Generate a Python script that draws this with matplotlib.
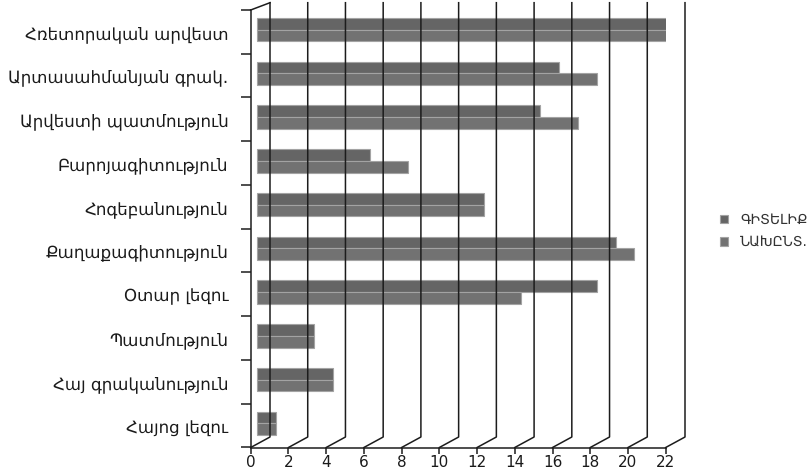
import numpy as np
import matplotlib
matplotlib.use("Agg")
import matplotlib.pyplot as plt
from matplotlib.transforms import offset_copy, IdentityTransform
from matplotlib.lines import Line2D

# subjects, top to bottom
subjects = ["Հռետորական արվեստ", "Արտասահմանյան գրակ.", "Արվեստի պատմություն",
            "Բարոյագիտություն", "Հոգեբանություն", "Քաղաքագիտություն",
            "Օտար լեզու", "Պատմություն", "Հայ գրականություն", "Հայոց լեզու"]
gitelik = [22, 16, 15, 6, 12, 19, 18, 3, 4, 1]
nakhnt = [22, 18, 17, 8, 12, 20, 14, 3, 4, 1]
series_names = ["ԳԻՏԵԼԻՔ", "ՆԱԽԸՆՏ."]
xticks = np.arange(0, 23, 2)

W, H = 807, 472
fig = plt.figure(figsize=(W / 100, H / 100), dpi=100)
ax = fig.add_axes([250.7 / W, 24.5 / H, 415 / W, 437.5 / H])

n = len(subjects)
pos = np.arange(n)
ax.set_xlim(0, 22)
ax.set_ylim(n - 0.5, -0.5)

# fake 3d: back wall shifted right/up, bars sit part way in
back_dx, back_dy = 19.3, 10.5
bar_tr = offset_copy(ax.transData, fig=fig, x=6.5, y=2.3, units='dots')

h = 0.267
ax.barh(pos - h / 2, gitelik, height=h, color='#656565', edgecolor='#a3a3a3',
        linewidth=0.8, transform=bar_tr, zorder=3, label=series_names[0])
ax.barh(pos + h / 2, nakhnt, height=h, color='#727272', edgecolor='#a3a3a3',
        linewidth=0.8, transform=bar_tr, zorder=3, label=series_names[1])

# wall lines in display pixels
fig.canvas.draw()
grid_kw = dict(color='#1c1c1c', lw=1.1, zorder=1, transform=IdentityTransform(), clip_on=False)
top_px = ax.transData.transform((0, -0.5))[1]
for t in xticks:
    x0, y0 = ax.transData.transform((t, n - 0.5))
    fig.add_artist(Line2D([x0, x0 + back_dx, x0 + back_dx],
                          [y0, y0 + back_dy, top_px + 7.3], **grid_kw))
x0, y0 = ax.transData.transform((0, -0.5))
fig.add_artist(Line2D([x0, x0 + back_dx], [y0, y0 + 7.3], **grid_kw))

for side in ['top', 'right']:
    ax.spines[side].set_visible(False)
for side in ['left', 'bottom']:
    ax.spines[side].set_color('#1c1c1c')
    ax.spines[side].set_linewidth(1.1)

ax.set_yticks(pos)
ax.set_yticklabels(subjects, fontsize=12, color='#1a1a1a')
ax.set_yticks(np.arange(-0.5, n, 1), minor=True)
ax.tick_params(axis='y', which='major', length=0, pad=16)
ax.tick_params(axis='y', which='minor', length=7, width=1.1, color='#1c1c1c')

ax.set_xticks(xticks)
ax.set_xticklabels([str(t) for t in xticks], fontsize=11, color='#1a1a1a')
ax.tick_params(axis='x', length=4, width=1.1, color='#1c1c1c', pad=1.5)

ax.legend(loc='center left', bbox_to_anchor=(707 / W, 1 - 231 / H),
          bbox_transform=fig.transFigure, frameon=False, fontsize=10,
          handlelength=0.6, handleheight=0.6, handletextpad=0.9,
          labelspacing=0.6, labelcolor='#333333')

plt.savefig("out.png", dpi=100)
